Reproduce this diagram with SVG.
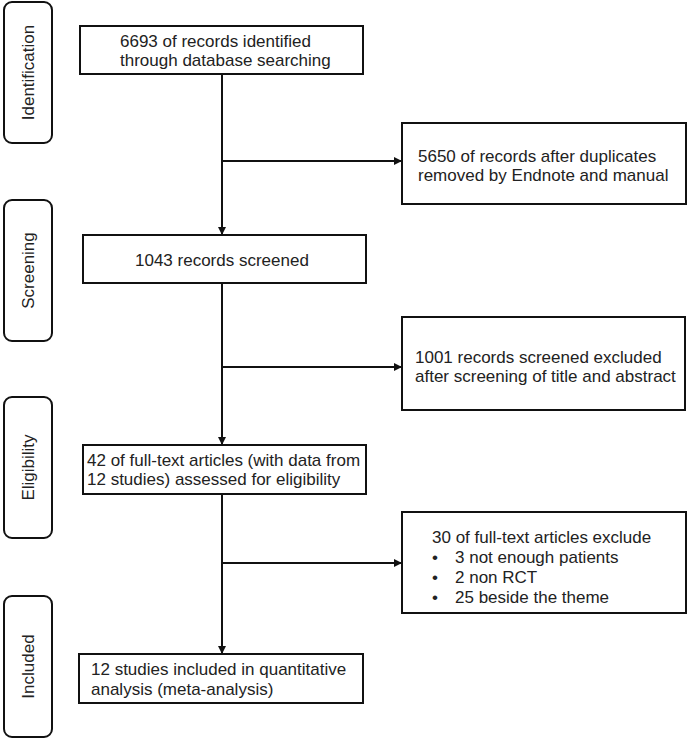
<svg xmlns="http://www.w3.org/2000/svg" width="688" height="740" viewBox="0 0 688 740">
<style>
text{font-family:"Liberation Sans",Arial,sans-serif;font-size:17px;fill:#222}
.box{fill:#fff;stroke:#111;stroke-width:2}
.side{fill:#fff;stroke:#111;stroke-width:2}
.ln{fill:none;stroke:#111;stroke-width:2}
</style>
<defs>
<marker id="ah" markerWidth="10" markerHeight="10" refX="8" refY="4" orient="auto" markerUnits="userSpaceOnUse">
<path d="M0,0 L8,4 L0,8 Z" fill="#111"/>
</marker>
</defs>
<rect width="688" height="740" fill="#fff"/>
<g id="stage-identification"><rect class="side" x="4" y="2" width="48" height="141" rx="8"/><text transform="translate(34,72.5) rotate(-90)" text-anchor="middle">Identification</text></g>
<g id="stage-screening"><rect class="side" x="4" y="200" width="48" height="141" rx="8"/><text transform="translate(34,270.5) rotate(-90)" text-anchor="middle">Screening</text></g>
<g id="stage-eligibility"><rect class="side" x="4" y="397" width="48" height="141" rx="8"/><text transform="translate(34,467.5) rotate(-90)" text-anchor="middle">Eligibility</text></g>
<g id="stage-included"><rect class="side" x="4" y="596" width="48" height="141" rx="8"/><text transform="translate(34,666.5) rotate(-90)" text-anchor="middle">Included</text></g>
<g id="connectors">
<line class="ln" x1="222" y1="74" x2="222" y2="235" marker-end="url(#ah)"/>
<line class="ln" x1="222" y1="283" x2="222" y2="445" marker-end="url(#ah)"/>
<line class="ln" x1="222" y1="494" x2="222" y2="654" marker-end="url(#ah)"/>
<line class="ln" x1="222" y1="161" x2="402" y2="161" marker-end="url(#ah)"/>
<line class="ln" x1="222" y1="367" x2="402" y2="367" marker-end="url(#ah)"/>
<line class="ln" x1="222" y1="563" x2="402" y2="563" marker-end="url(#ah)"/>
</g>
<g id="n-identified"><rect class="box" x="80" y="26" width="283" height="48"/><text x="120" y="47">6693 of records identified</text><text x="120" y="66">through  database searching</text></g>
<g id="n-duplicates"><rect class="box" x="402" y="123" width="284" height="81"/><text x="418" y="162">5650 of records after duplicates</text><text x="418" y="181">removed by Endnote and manual</text></g>
<g id="n-screened"><rect class="box" x="83" y="235" width="283" height="48"/><text x="135" y="266">1043 records screened</text></g>
<g id="n-excluded"><rect class="box" x="402" y="317" width="283" height="93"/><text x="415" y="363">1001 records screened excluded</text><text x="415" y="382">after screening of title and abstract</text></g>
<g id="n-fulltext"><rect class="box" x="83" y="445" width="283" height="49"/><text x="87" y="466">42 of full-text  articles (with data from</text><text x="87" y="485">12 studies) assessed for eligibility</text></g>
<g id="n-ftexcluded"><rect class="box" x="402" y="512" width="284" height="101"/><text x="432" y="543">30 of full-text  articles exclude</text><text x="432" y="563">•</text><text x="455" y="563">3 not enough  patients</text><text x="432" y="583">•</text><text x="455" y="583">2 non RCT</text><text x="432" y="603">•</text><text x="455" y="603">25 beside the theme</text></g>
<g id="n-included"><rect class="box" x="79" y="654" width="284" height="49"/><text x="91" y="675">12 studies included in quantitative</text><text x="91" y="695">analysis (meta-analysis)</text></g>
</svg>
